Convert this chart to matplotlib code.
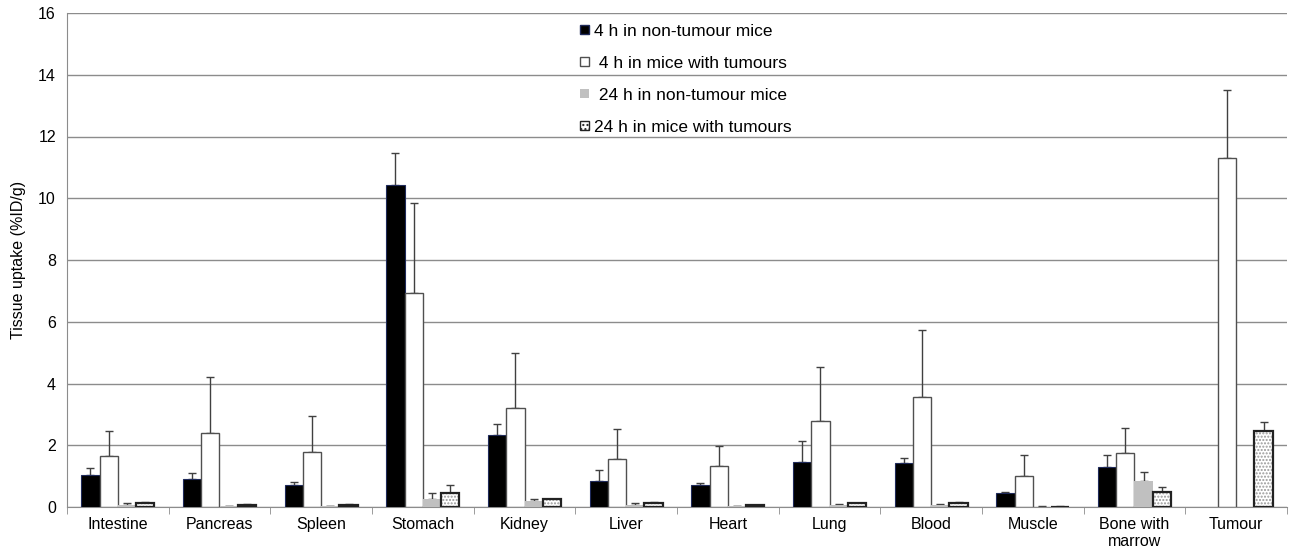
import numpy as np
import matplotlib
matplotlib.use('Agg')
import matplotlib.pyplot as plt
from matplotlib.patches import Patch

plt.rcParams['font.family'] = ['Liberation Sans', 'DejaVu Sans']
plt.rcParams['hatch.linewidth'] = 1.0

tissues = ['Intestine', 'Pancreas', 'Spleen', 'Stomach', 'Kidney', 'Liver', 'Heart',
           'Lung', 'Blood', 'Muscle', 'Bone with\nmarrow', 'Tumour']

nan = np.nan
h4_plain = [1.05, 0.92, 0.72, 10.42, 2.34, 0.85, 0.70, 1.47, 1.42, 0.44, 1.31, nan]
h4_plain_sd = [0.21, 0.18, 0.08, 1.03, 0.35, 0.34, 0.07, 0.66, 0.16, 0.06, 0.39, nan]
h4_tum = [1.64, 2.41, 1.77, 6.94, 3.20, 1.55, 1.32, 2.79, 3.55, 1.02, 1.76, 11.29]
h4_tum_sd = [0.83, 1.79, 1.18, 2.92, 1.78, 0.97, 0.67, 1.74, 2.18, 0.65, 0.79, 2.23]
h24_plain = [0.08, 0.02, 0.02, 0.25, 0.20, 0.08, 0.03, 0.06, 0.05, 0.01, 0.85, nan]
h24_plain_sd = [0.06, 0.02, 0.01, 0.19, 0.05, 0.04, 0.01, 0.04, 0.05, 0.01, 0.29, nan]
h24_tum = [0.13, 0.07, 0.08, 0.46, 0.25, 0.14, 0.06, 0.12, 0.14, 0.01, 0.48, 2.46]
h24_tum_sd = [0.04, 0.02, 0.02, 0.25, 0.02, 0.02, 0.01, 0.02, 0.02, 0.03, 0.16, 0.28]

labels = ['4 h in non-tumour mice', ' 4 h in mice with tumours',
          ' 24 h in non-tumour mice', '24 h in mice with tumours']

fig = plt.figure(figsize=(12.93, 5.55), dpi=100)
ax = fig.add_axes([67/1293, 1-507/555, 1220/1293, 494/555])

x = np.arange(len(tissues))
w = 0.18
offs = np.array([-1.5, -0.5, 0.5, 1.5]) * w

def errs(ax, xs, v, sd):
    v = np.array(v, float)
    sd = np.array(sd, float)
    ax.errorbar(xs, v, yerr=[np.zeros_like(sd), sd], fmt='none', ecolor='#404040',
                elinewidth=1, capsize=3, capthick=1, zorder=2)

errs(ax, x + offs[0], h4_plain, h4_plain_sd)
errs(ax, x + offs[1], h4_tum, h4_tum_sd)
errs(ax, x + offs[2], h24_plain, h24_plain_sd)
errs(ax, x + offs[3], h24_tum, h24_tum_sd)

ax.bar(x + offs[0], h4_plain, w, color='black', edgecolor='#1f2a5a', linewidth=0.8, zorder=3)
ax.bar(x + offs[1], h4_tum, w, color='white', edgecolor='#505050', linewidth=1.0, zorder=3)
ax.bar(x + offs[2], h24_plain, w, color='#c0c0c0', linewidth=0, zorder=3)
ax.bar(x + offs[3], h24_tum, w, color='white', edgecolor='#999999', hatch='.....', linewidth=0, zorder=3)
ax.bar(x + offs[3], h24_tum, w, color='none', edgecolor='#222222', linewidth=1.6, zorder=4)

ax.set_ylim(0, 16)
ax.set_yticks(np.arange(0, 17, 2))
ax.set_xlim(-0.5, len(tissues) - 0.5)
ax.yaxis.grid(True, color='#8c8c8c', linewidth=1)
ax.set_axisbelow(True)
ax.set_xticks(x)
ax.set_xticklabels(tissues, fontsize=11.5)
ax.set_xticks(np.arange(-0.5, len(tissues)), minor=True)
ax.tick_params(axis='x', which='major', length=0, pad=7)
ax.tick_params(axis='x', which='minor', length=5, color='#8c8c8c', direction='out')
ax.tick_params(axis='y', length=0, labelsize=11.5, pad=8)
for s in ['top', 'right']:
    ax.spines[s].set_visible(False)
ax.spines['left'].set_color('#8c8c8c')
ax.spines['bottom'].set_color('#8c8c8c')
ax.set_ylabel('Tissue uptake (%ID/g)', fontsize=11.5, labelpad=9)

handles = [Patch(facecolor='black', edgecolor='#1f2a5a'),
           Patch(facecolor='white', edgecolor='#505050'),
           Patch(facecolor='#c0c0c0', edgecolor='none'),
           Patch(facecolor='white', edgecolor='#222222', hatch='....')]
ax.legend(handles, labels, loc='upper left', bbox_to_anchor=(571/1293, 1-15/555),
          bbox_transform=fig.transFigure, frameon=False, fontsize=12.5, borderpad=0,
          handlelength=0.55, handleheight=0.45, handletextpad=0.3, labelspacing=0.98)

fig.savefig('out.png', dpi=100, facecolor='white')
